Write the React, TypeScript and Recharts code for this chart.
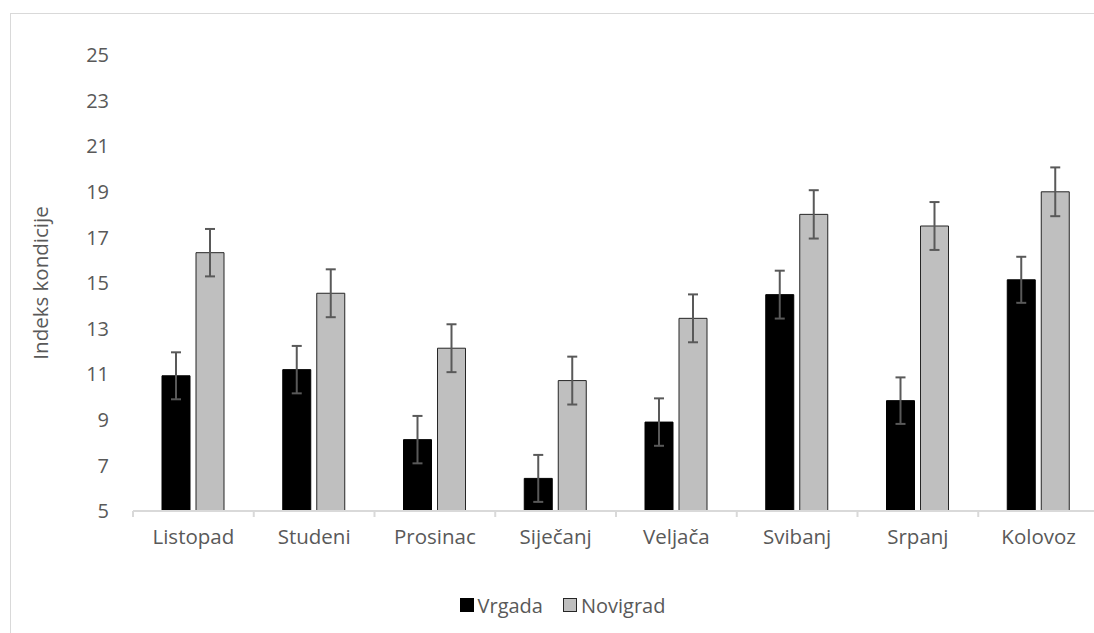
import React from "react";
import { Bar, BarChart, ErrorBar, Legend, XAxis, YAxis } from "recharts";

const months = [
  "Listopad",
  "Studeni",
  "Prosinac",
  "Siječanj",
  "Veljača",
  "Svibanj",
  "Srpanj",
  "Kolovoz",
];
const vrgada = [10.93, 11.2, 8.13, 6.43, 8.9, 14.49, 9.84, 15.14];
const vrgadaErr = [1.03, 1.04, 1.04, 1.03, 1.04, 1.05, 1.02, 1.01];
const novigrad = [16.33, 14.55, 12.14, 10.72, 13.45, 18.01, 17.5, 19.0];
const novigradErr = [1.04, 1.05, 1.05, 1.05, 1.05, 1.06, 1.05, 1.07];
const yTicks = [5, 7, 9, 11, 13, 15, 17, 19, 21, 23, 25];

const FONT = "'Open Sans', sans-serif";
const TEXT_GREY = "#595959";
const AXIS_GREY = "#d9d9d9";
const X_TICK_SIZE = 6;
const X_TICK_MARGIN = 12;

const data = months.map((m, i) => ({
  name: m,
  vrgada: vrgada[i],
  vErr: vrgadaErr[i],
  novigrad: novigrad[i],
  nErr: novigradErr[i],
}));

const legendItems = [
  { label: "Vrgada", fill: "#000000", stroke: "#000000" },
  { label: "Novigrad", fill: "#bfbfbf", stroke: "#262626" },
];

// category label plus the small tick marks that sit on the category boundaries
function CategoryTick(props: any) {
  const { x, y, payload, index, visibleTicksCount } = props;
  const half = payload?.offset ?? 0;
  const axisY = y - X_TICK_SIZE - X_TICK_MARGIN;
  const last = index === visibleTicksCount - 1;
  return (
    <g>
      <line x1={x - half} x2={x - half} y1={axisY} y2={axisY + 6} stroke={AXIS_GREY} strokeWidth={2} />
      {last && (
        <line x1={x + half} x2={x + half} y1={axisY} y2={axisY + 6} stroke={AXIS_GREY} strokeWidth={2} />
      )}
      <text
        x={x}
        y={y}
        dy="0.71em"
        textAnchor="middle"
        fill={TEXT_GREY}
        fontSize={20.5}
        fontFamily={FONT}
      >
        {payload.value}
      </text>
    </g>
  );
}

function LegendContent() {
  return (
    <div
      style={{
        display: "flex",
        justifyContent: "center",
        alignItems: "center",
        fontFamily: FONT,
        fontSize: 20,
        color: TEXT_GREY,
        height: 24,
      }}
    >
      {legendItems.map((it, i) => (
        <div
          key={it.label}
          style={{ display: "flex", alignItems: "center", marginLeft: i ? 20 : 0 }}
        >
          <span
            style={{
              display: "inline-block",
              width: 12,
              height: 12,
              background: it.fill,
              border: `1px solid ${it.stroke}`,
              marginRight: 4,
            }}
          />
          <span>{it.label}</span>
        </div>
      ))}
    </div>
  );
}

export default function App() {
  return (
    <div
      style={{
        position: "fixed",
        left: 0,
        top: 0,
        width: 1094,
        height: 633,
        overflow: "hidden",
        background: "#ffffff",
      }}
    >
      <div
        style={{
          position: "absolute",
          left: 10,
          top: 13,
          width: 1120,
          height: 660,
          border: `1px solid ${AXIS_GREY}`,
        }}
      />
      <div style={{ position: "absolute", left: 0, top: 0 }}>
        <BarChart
          width={1110}
          height={633}
          data={data}
          margin={{ top: 55, right: 11, left: 20, bottom: 16 }}
          barSize={28}
          barGap={6}
        >
          <XAxis
            dataKey="name"
            tickLine={false}
            axisLine={{ stroke: AXIS_GREY, strokeWidth: 2 }}
            tick={<CategoryTick />}
            tickSize={X_TICK_SIZE}
            tickMargin={X_TICK_MARGIN}
            height={82}
            interval={0}
          />
          <YAxis
            domain={[5, 25]}
            ticks={yTicks}
            width={113}
            axisLine={false}
            tickLine={false}
            tickSize={6}
            tickMargin={18}
            tick={{ fill: TEXT_GREY, fontSize: 20, fontFamily: FONT }}
            label={{
              value: "Indeks kondicije",
              angle: -90,
              position: "center",
              dx: -36,
              fill: TEXT_GREY,
              fontSize: 20.5,
              fontFamily: FONT,
            }}
          />
          <Legend
            verticalAlign="bottom"
            height={24}
            content={<LegendContent />}
            wrapperStyle={{ left: 0, width: 1125, bottom: 16 }}
          />
          <Bar
            dataKey="vrgada"
            name="Vrgada"
            fill="#000000"
            stroke="#000000"
            strokeWidth={1}
            isAnimationActive={false}
          >
            <ErrorBar dataKey="vErr" width={5} stroke="#595959" strokeWidth={2} direction="y" />
          </Bar>
          <Bar
            dataKey="novigrad"
            name="Novigrad"
            fill="#bfbfbf"
            stroke="#262626"
            strokeWidth={1}
            isAnimationActive={false}
          >
            <ErrorBar dataKey="nErr" width={5} stroke="#595959" strokeWidth={2} direction="y" />
          </Bar>
        </BarChart>
      </div>
    </div>
  );
}
